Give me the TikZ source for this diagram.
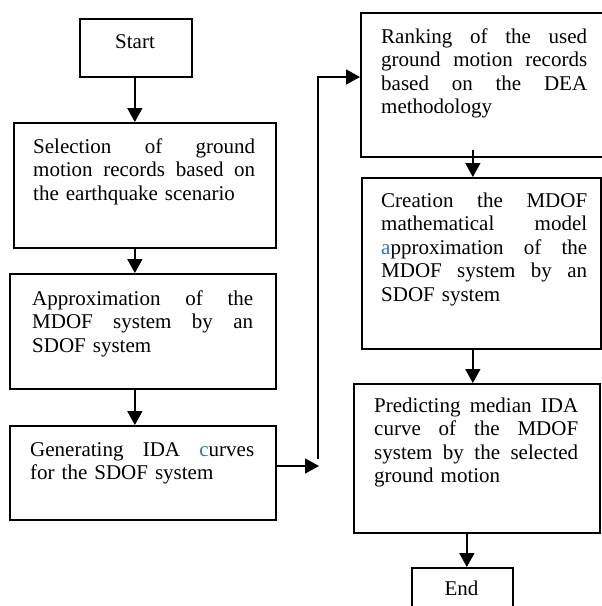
\documentclass[tikz,border=0pt]{standalone}
\usepackage{fontspec}
\setmainfont{Liberation Serif}
\usetikzlibrary{arrows.meta,calc}
\definecolor{hl}{RGB}{46,116,181}
\newcommand\jl[1]{\leavevmode\hbox to \hsize{\spaceskip=0.25em plus 10em\relax #1}\par}
\newcommand\lastl[1]{\leavevmode\hbox{#1}\par}
\begin{document}
\begin{tikzpicture}[x=1pt,y=-1pt,
  box/.style={draw,line width=1.7pt,inner sep=0pt,anchor=north west},
  txt/.style={inner sep=0pt,anchor=base west,font=\fontsize{21}{23.5}\selectfont},
  lbl/.style={inner sep=0pt,anchor=base,font=\fontsize{21}{23.5}\selectfont},
  arr/.style={line width=1.7pt,-{Triangle[width=15pt,length=14pt]}},
  ln/.style={line width=1.7pt}]
\useasboundingbox (0,0) rectangle (602,606);
% boxes
\node[box,minimum width=112pt,minimum height=58pt] (start) at (79,18) {};
\node[lbl] (tstart) at (135,48) {Start};
\node[box,minimum width=262pt,minimum height=125pt] (b2) at (13,122) {};
\node[txt,text width=222pt] (t2) at (33,153) {\jl{Selection of ground}\jl{motion records based on}\lastl{the earthquake scenario}};
\node[box,minimum width=266pt,minimum height=115pt] (b3) at (9,273) {};
\node[txt,text width=221pt] (t3) at (32,305) {\jl{Approximation of the}\jl{MDOF system by an}\lastl{SDOF system}};
\node[box,minimum width=266pt,minimum height=94pt] (b4) at (9,425) {};
\node[txt,text width=224pt] (t4) at (30,456) {\jl{Generating IDA \textcolor{hl}{c}urves}\lastl{for the SDOF system}};
\node[box,minimum width=250pt,minimum height=144pt] (b5) at (360,12) {};
\node[txt,text width=206pt] (t5) at (381,43) {\jl{Ranking of the used}\jl{ground motion records}\jl{based on the DEA}\lastl{methodology}};
\node[box,minimum width=239pt,minimum height=171pt] (b6) at (361,177) {};
\node[txt,text width=206pt] (t6) at (381,207) {\jl{Creation the MDOF}\jl{mathematical model}\jl{\textcolor{hl}{a}pproximation of the}\jl{MDOF system by an}\lastl{SDOF system}};
\node[box,minimum width=246pt,minimum height=149pt] (b7) at (353,383) {};
\node[txt,text width=204pt] (t7) at (374,412) {\jl{Predicting median IDA}\jl{curve of the MDOF}\jl{system by the selected}\lastl{ground motion}};
\node[box,minimum width=101pt,minimum height=60pt] (end) at (411,567) {};
\node[lbl] (tend) at (461.5,595) {End};
% connectors
\draw[arr] ([xshift=-1pt]start.south) -- ([xshift=-1pt]start.south |- b2.north);
\draw[arr] ([xshift=-10pt]b2.south) -- ([xshift=-10pt]b2.south |- b3.north);
\draw[arr] ([xshift=-8pt]b3.south) -- ([xshift=-8pt]b3.south |- b4.north);
\coordinate (j1) at (319,466);
\coordinate (j2) at (318,459);
\coordinate (j3) at (318,77);
\draw[arr] (b4.east |- j1) -- (j1);
\draw[arr] (j2) -- (j3) -- (j3 -| b5.west);
\draw[arr] ([xshift=-13pt,yshift=8pt]b5.south) -- ([xshift=-13pt]b5.south |- b6.north);
\draw[arr] ([xshift=-8.5pt]b6.south) -- ([xshift=-8.5pt]b6.south |- b7.north);
\draw[arr] ([xshift=-10pt]b7.south) -- ([xshift=-10pt]b7.south |- end.north);
\end{tikzpicture}
\end{document}
